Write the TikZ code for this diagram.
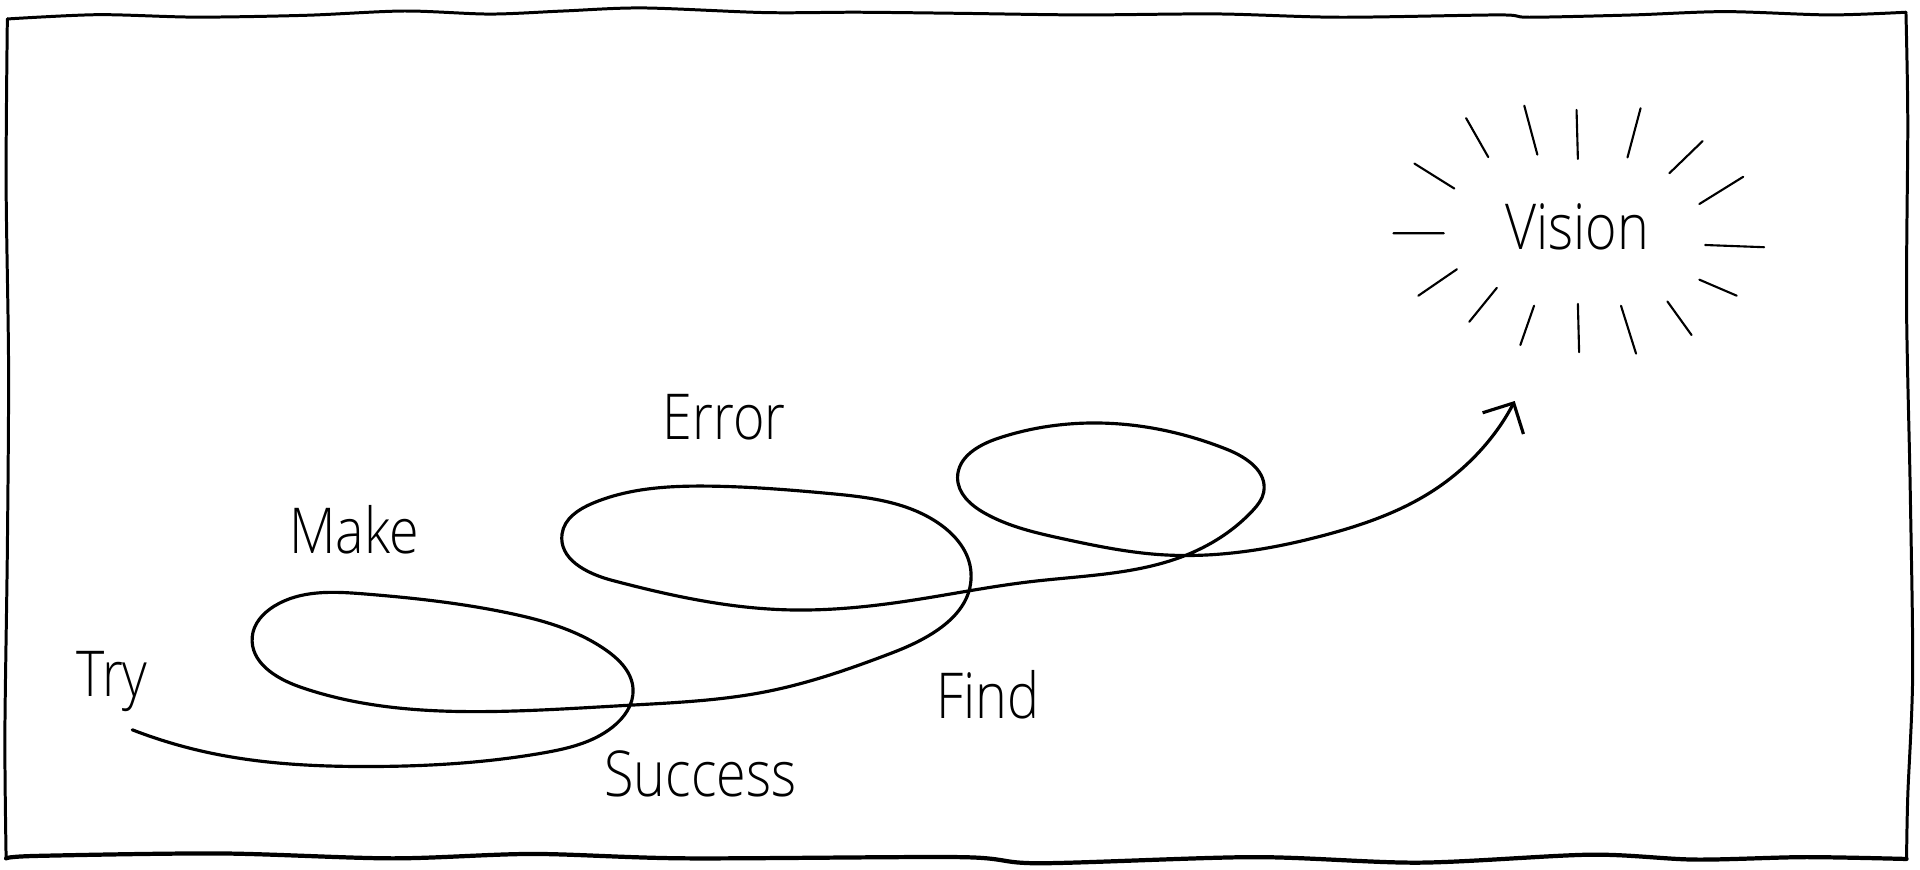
\documentclass[tikz,border=0pt]{standalone}
\usepackage{fontspec}
\IfFontExistsTF{Open Sans Light}
	{\setmainfont{Open Sans Light}[FakeStretch=0.85]}
	{\setmainfont{Open Sans}[FakeStretch=0.85]}
\usetikzlibrary{arrows.meta, hobby}
\tikzset{
	word/.style   = {inner sep = 0pt, anchor = base, font = \fontsize{18}{21}\selectfont},
	ray/.style    = {line width = 0.6pt, line cap = round},
	frame/.style  = {line width = 0.85pt, line cap = round, line join = round},
	spiral/.style = {line width = 0.9pt, line cap = round}
}

\begin{document}
\begin{tikzpicture}[x=0.012245cm, y=-0.012245cm, >={Straight Barb[length=2.3mm, width=4.6mm]}]
	\useasboundingbox (0,0) rectangle (1568,710.5);

	% hand drawn frame
	\draw[frame] plot[smooth] coordinates {(6,15.5) (80,12) (160,14) (250,12.5) (330,9) (400,11.5) (460,9) (525,6.5) (625,10.3) (700,10) (784,10.9) (884,12.2) (994,11.4) (1094,14.1) (1224,12.2) (1249,14.1) (1334,12.2) (1409,9.5) (1494,12.2) (1556.5,10)};
	\draw[frame] plot[smooth] coordinates {(1556.5,10) (1558,100) (1557,250) (1560,400) (1562,550) (1558,650) (1557,701.5)};
	\draw[frame, line width = 1.2pt] plot[smooth] coordinates {(5,701) (30,699) (180,697) (320,701) (435,697.4) (560,701) (784,700) (849,705) (1024,700) (1159,704.5) (1299,698) (1384,702) (1474,700) (1557,701.5)};
	\draw[frame] plot[smooth] coordinates {(6,15.5) (5,150) (7,300) (6,450) (4,600) (5,701)};

	% words
	\node[word] (try)     at (91.5,569)   {Try};
	\node[word] (make)    at (289,451.8)  {Make};
	\node[word] (error)   at (591.5,358.7) {Error};
	\node[word] (success) at (572,650.6)  {Success};
	\node[word] (find)    at (806.5,587)  {Find};
	\node[word] (vision)  at (1288,203.6) {Vision};

	% the path from try to vision
	\coordinate (start) at (108,596);
	\coordinate (tip)   at (1237,327.5);
	\draw[spiral, ->, use Hobby shortcut] (start) .. (172,615) .. (302,626) .. (443,615) .. (500,594) .. (517,563) .. (495,531) .. (417,501) .. (297,485) .. (224,495) .. (206,520) .. (245,561) .. (406,581) .. (513,576) .. (625,565) .. (729,533) .. (793,468) .. (766,427) .. (677,403) .. (578,397) .. (484,411) .. (459,436) .. (500,474) .. (641,498) .. (740,491) .. (842,475) .. (972,452) .. (1023,417) .. (1032,402) .. (1002,367) .. (911,346) .. (815,358) .. (782,390) .. (804,419) .. (868,440) .. (948,453) .. (1082,437) .. (1173,399) .. (tip);

	% rays round the vision
	\draw[ray]
	(1197.3,96.5) -- (1215.4,128.3)
	(1244.8,86.3) -- (1255.5,126.3)
	(1287.5,89.8) -- (1288.6,129.8)
	(1339.8,88.4) -- (1329.1,128.6)
	(1390.5,115.2) -- (1363.3,141.5)
	(1423.6,144.4) -- (1387.8,166.6)
	(1155.1,133.6) -- (1187.7,154.0)
	(1138.0,190.5) -- (1179.1,190.5)
	(1392.6,200.1) -- (1440.7,201.9)
	(1189.8,219.9) -- (1158.3,241.5)
	(1387.8,228.4) -- (1418.3,241.5)
	(1222.4,235.1) -- (1199.9,262.8)
	(1252.8,249.7) -- (1241.6,281.8)
	(1288.6,248.2) -- (1289.6,287.6)
	(1323.8,249.7) -- (1336.1,288.8)
	(1361.7,246.2) -- (1381.4,273.6);
\end{tikzpicture}
\end{document}
